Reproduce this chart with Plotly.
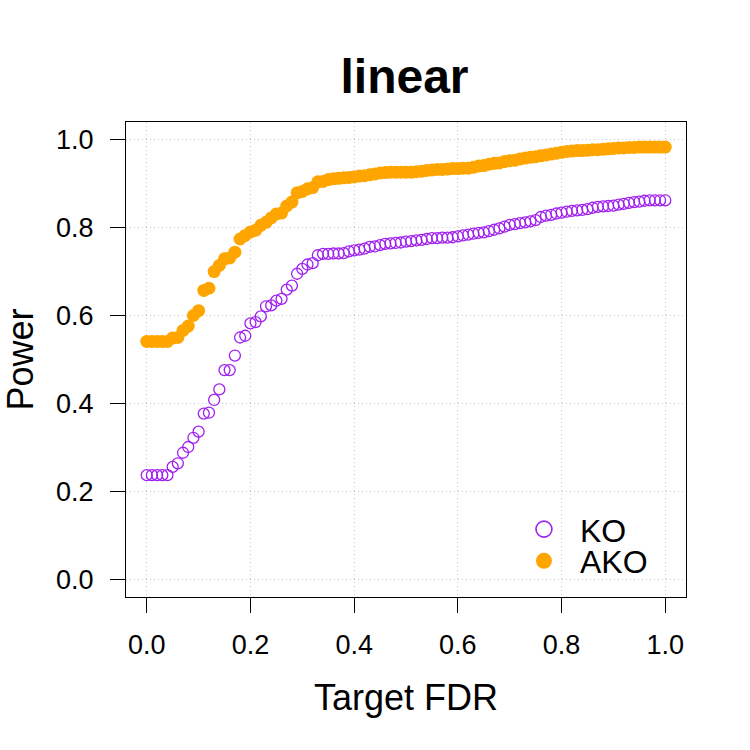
import plotly.graph_objects as go

fdr = [round(i * 0.01, 2) for i in range(101)]

ko_power = [
    0.237, 0.237, 0.237, 0.237, 0.237, 0.256, 0.264, 0.288, 0.301, 0.322,
    0.336, 0.377, 0.379, 0.408, 0.432, 0.476, 0.476, 0.509, 0.550, 0.554,
    0.582, 0.585, 0.598, 0.621, 0.623, 0.634, 0.638, 0.659, 0.668, 0.695,
    0.706, 0.716, 0.719, 0.737, 0.740, 0.740, 0.741, 0.741, 0.742, 0.746,
    0.748, 0.750, 0.752, 0.756, 0.757, 0.760, 0.763, 0.764, 0.765, 0.766,
    0.768, 0.769, 0.771, 0.772, 0.774, 0.776, 0.776, 0.777, 0.777, 0.778,
    0.780, 0.782, 0.784, 0.786, 0.788, 0.789, 0.792, 0.795, 0.798, 0.802,
    0.806, 0.808, 0.810, 0.812, 0.814, 0.817, 0.824, 0.827, 0.829, 0.832,
    0.834, 0.836, 0.838, 0.839, 0.840, 0.842, 0.845, 0.847, 0.848, 0.849,
    0.850, 0.852, 0.854, 0.856, 0.858, 0.859, 0.861, 0.862, 0.862, 0.862,
    0.862,
]

ako_power = [
    0.541, 0.541, 0.541, 0.541, 0.541, 0.549, 0.550, 0.566, 0.576, 0.600,
    0.611, 0.657, 0.662, 0.700, 0.714, 0.729, 0.731, 0.744, 0.774, 0.782,
    0.790, 0.794, 0.805, 0.812, 0.822, 0.831, 0.833, 0.849, 0.858, 0.879,
    0.882, 0.888, 0.891, 0.904, 0.905, 0.909, 0.911, 0.912, 0.913, 0.914,
    0.915, 0.917, 0.918, 0.920, 0.922, 0.924, 0.925, 0.926, 0.926, 0.926,
    0.926, 0.926, 0.927, 0.928, 0.930, 0.931, 0.932, 0.932, 0.933, 0.934,
    0.934, 0.935, 0.935, 0.937, 0.940, 0.941, 0.944, 0.946, 0.947, 0.950,
    0.952, 0.953, 0.956, 0.958, 0.960, 0.961, 0.963, 0.965, 0.967, 0.969,
    0.971, 0.973, 0.974, 0.975, 0.975, 0.976, 0.977, 0.977, 0.978, 0.979,
    0.980, 0.981, 0.981, 0.982, 0.982, 0.983, 0.983, 0.983, 0.983, 0.983,
    0.983,
]

tick_vals = [0.0, 0.2, 0.4, 0.6, 0.8, 1.0]
tick_text = ["0.0", "0.2", "0.4", "0.6", "0.8", "1.0"]

FONT = "Liberation Sans, Arial, sans-serif"
KO_COLOR = "#A020F0"
AKO_COLOR = "#FFA500"

fig = go.Figure()
fig.add_trace(go.Scatter(
    x=fdr, y=ko_power, mode="markers", name="KO", showlegend=False,
    marker=dict(symbol="circle-open", size=11, color=KO_COLOR,
                line=dict(width=1.3, color=KO_COLOR)),
))
fig.add_trace(go.Scatter(
    x=fdr, y=ako_power, mode="markers", name="AKO", showlegend=False,
    marker=dict(symbol="circle", size=13, color=AKO_COLOR, line=dict(width=0)),
))
# legend entries (bigger symbols, as in the reference)
fig.add_trace(go.Scatter(
    x=[None], y=[None], mode="markers", name="KO", legend="legend",
    marker=dict(symbol="circle-open", size=17, color=KO_COLOR,
                line=dict(width=1.6, color=KO_COLOR)),
))
fig.add_trace(go.Scatter(
    x=[None], y=[None], mode="markers", name="AKO", legend="legend2",
    marker=dict(symbol="circle", size=17, color=AKO_COLOR, line=dict(width=0)),
))

axis_common = dict(
    tickvals=tick_vals, ticktext=tick_text,
    showgrid=True, gridcolor="#c8c8c8", griddash="1px,3px", gridwidth=1,
    zeroline=False,
    showline=True, linecolor="black", linewidth=1.3, mirror=True,
    ticks="outside", ticklen=15, tickwidth=1.3, tickcolor="black",
    tickfont=dict(family=FONT, size=27, color="black"),
)

fig.update_xaxes(
    range=[-0.04, 1.04], ticklabelstandoff=8,
    title=dict(text="Target FDR", font=dict(family=FONT, size=36, color="black"), standoff=26),
    **axis_common,
)
fig.update_yaxes(
    range=[-0.04, 1.04], ticklabelstandoff=11,
    title=dict(text="Power", font=dict(family=FONT, size=36, color="black"), standoff=19),
    **axis_common,
)

leg_common = dict(xref="paper", yref="paper", xanchor="left", yanchor="middle",
                  bgcolor="rgba(0,0,0,0)", borderwidth=0, itemwidth=62,
                  font=dict(family=FONT, size=32, color="black"))

fig.update_layout(
    width=750, height=750,
    margin=dict(l=122, r=64, t=122, b=153),
    paper_bgcolor="white", plot_bgcolor="white",
    title=dict(text="<b>linear</b>", x=(123 + 686) / 2 / 750, xanchor="center",
               y=1 - 76 / 750, yanchor="middle", yref="container",
               font=dict(family=FONT, size=48, color="black")),
    legend=dict(x=(507 - 123) / 563, y=(597 - 529.3) / 475, **leg_common),
    legend2=dict(x=(507 - 123) / 563, y=(597 - 561) / 475, **leg_common),
    showlegend=True,
)

fig.write_html("out.html")
